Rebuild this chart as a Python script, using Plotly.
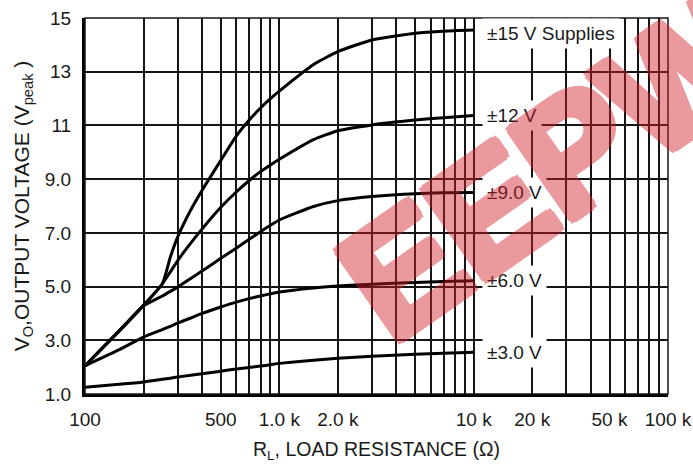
import math
import plotly.graph_objects as go

# Load resistance (ohms) at which output swing is tabulated
load_ohms = [100, 150, 200, 250, 275, 300, 350, 400, 500, 600, 700, 800, 900,
             1000, 1500, 2000, 3000, 5000, 7000, 10000]

# Peak output voltage for each supply setting
vout_15 = [2.05, 3.35, 4.3, 5.1, 6.1, 6.85, 7.85, 8.58, 9.7, 10.6, 11.2, 11.65, 12.0,
           12.28, 13.27, 13.75, 14.18, 14.43, 14.51, 14.55]
vout_12 = [2.05, 3.35, 4.3, 5.1, 5.55, 5.97, 6.62, 7.14, 7.95, 8.52, 8.95, 9.28, 9.53,
           9.74, 10.47, 10.8, 11.02, 11.2, 11.29, 11.37]
vout_9 = [2.05, 3.35, 4.28, 4.65, 4.82, 4.98, 5.3, 5.58, 6.05, 6.43, 6.76, 7.04, 7.28,
          7.48, 7.98, 8.2, 8.35, 8.46, 8.49, 8.5]
vout_6 = [2.05, 2.65, 3.12, 3.4, 3.52, 3.64, 3.83, 4.0, 4.24, 4.42, 4.55, 4.65, 4.73,
          4.8, 4.95, 5.02, 5.09, 5.15, 5.19, 5.22]
vout_3 = [1.25, 1.36, 1.45, 1.55, 1.59, 1.63, 1.7, 1.75, 1.85, 1.93, 1.99, 2.04, 2.09,
          2.14, 2.26, 2.33, 2.41, 2.48, 2.52, 2.55]

series = [
    ("±15 V Supplies", vout_15),
    ("±12 V", vout_12),
    ("±9.0 V", vout_9),
    ("±6.0 V", vout_6),
    ("±3.0 V", vout_3),
]

# Axis ticks
x_tickvals = [100, 500, 1000, 2000, 10000, 20000, 50000, 100000]
x_ticktext = ["100", "500", "1.0 k", "2.0 k", "10 k", "20 k", "50 k", "100 k"]
x_gridvals = [m * d for d in (100, 1000, 10000) for m in range(1, 10)] + [100000]
y_tickvals = [1, 3, 5, 7, 9, 11, 13, 15]
y_ticktext = ["1.0", "3.0", "5.0", "7.0", "9.0", "11", "13", "15"]

FONT = "Liberation Sans, Arial, Helvetica, sans-serif"
TEXT = "#1a1a1a"
GRID = "#151515"
MARK_RED = "rgb(210,30,40)"

fig = go.Figure()

for name, vals in series:
    fig.add_trace(go.Scatter(
        x=load_ohms, y=vals, mode="lines", name=name,
        line=dict(color="black", width=3, shape="spline", smoothing=0.5),
        showlegend=False, hoverinfo="skip",
    ))

# Curve labels at the right end of each curve
end_x = math.log10(load_ohms[-1])
for name, vals in series:
    fig.add_annotation(
        x=end_x, y=vals[-1], xref="x", yref="y",
        text=name, showarrow=False, xanchor="left", yanchor="middle",
        xshift=8, yshift=-3 if name.startswith("±15") else 0,
        font=dict(family=FONT, size=19, color=TEXT),
        bgcolor="white", borderpad=4,
    )

# Watermark: heavy translucent lettering (shadows in eight directions thicken the strokes)
offsets = [(5, 0), (-5, 0), (0, 5), (0, -5), (4, 4), (-4, 4), (4, -4), (-4, -4)]
heavy = ", ".join(f"{dx}px {dy}px 0 {MARK_RED}" for dx, dy in offsets)
fig.add_annotation(
    x=0.798, y=0.604, xref="paper", yref="paper",
    xanchor="center", yanchor="middle",
    text="<b>EEPW</b>", showarrow=False, textangle=-35, opacity=0.45,
    font=dict(family="Liberation Sans", size=158, color=MARK_RED, shadow=heavy),
)

fig.update_layout(
    width=693, height=464,
    margin=dict(l=85, r=25, t=18, b=70),
    paper_bgcolor="white", plot_bgcolor="white",
    xaxis=dict(
        type="log", range=[2, 5], automargin=False,
        tickmode="array", tickvals=x_tickvals, ticktext=x_ticktext,
        showgrid=True, gridcolor=GRID, gridwidth=1.5,
        minor=dict(tickmode="array", tickvals=x_gridvals, showgrid=True,
                   gridcolor=GRID, gridwidth=1.5, ticks=""),
        showline=True, linecolor="black", linewidth=3,
        ticks="", ticklabelstandoff=6, ticklabeloverflow="allow",
        tickfont=dict(family=FONT, size=19, color=TEXT),
        zeroline=False,
        title=dict(text="R<sub>L</sub>, LOAD RESISTANCE (Ω)",
                   font=dict(family=FONT, size=19.5, color=TEXT),
                   standoff=14),
    ),
    yaxis=dict(
        range=[1, 15], automargin=False,
        tickmode="array", tickvals=y_tickvals, ticktext=y_ticktext,
        showgrid=True, gridcolor=GRID, gridwidth=1.5,
        showline=True, linecolor="black", linewidth=3,
        ticks="", ticklabelstandoff=7,
        tickfont=dict(family=FONT, size=19, color=TEXT),
        zeroline=False,
        title=dict(text="V<sub>O</sub>,OUTPUT VOLTAGE (V<sub>peak</sub> )",
                   font=dict(family=FONT, size=21, color=TEXT),
                   standoff=10),
    ),
    shapes=[dict(type="rect", xref="paper", yref="paper", x0=0, y0=0, x1=1, y1=1,
                 line=dict(color=GRID, width=1.5), layer="above")],
)

fig.write_html("out.html")
